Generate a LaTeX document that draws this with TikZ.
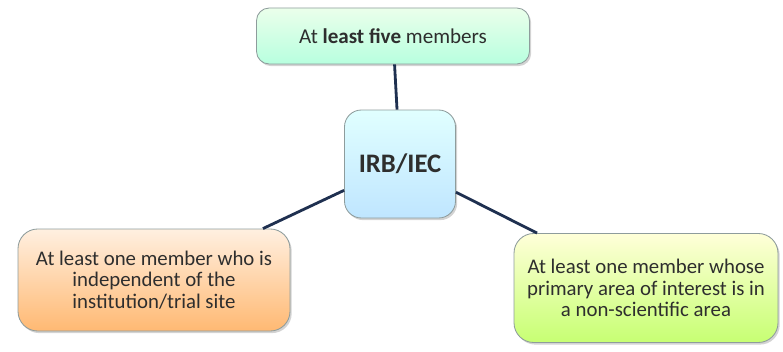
\documentclass[tikz,border=0pt]{standalone}
\usepackage{fontspec}
\setmainfont{Carlito}
\usetikzlibrary{shadows}
\definecolor{linkcol}{HTML}{1F3050}
\definecolor{rimcol}{HTML}{8E9C9C}
\definecolor{txtcol}{HTML}{2E2E2E}
\begin{document}
\begin{tikzpicture}[
    box/.style={draw=rimcol, line width=0.6pt, rounded corners=9pt,
      align=center, text=txtcol, inner sep=2pt,
      drop shadow={shadow xshift=1.2pt, shadow yshift=-1.5pt, opacity=0.35}},
    link/.style={draw=linkcol, line width=2pt}
  ]
  \useasboundingbox (0,0) rectangle (19.575,-8.775);
  \node[box, minimum width=6.825cm, minimum height=1.4cm,
    top color=green!8!white, bottom color=green!45!cyan!28!white,
    font=\fontsize{15}{17}\selectfont]
    (five) at (9.825,-0.9) {At \textbf{least five} members};
  \node[box, minimum width=2.775cm, minimum height=2.7cm, rounded corners=12pt,
    top color=cyan!12!white, bottom color=cyan!60!blue!25!white,
    font=\fontsize{19}{22}\selectfont\bfseries]
    (irb) at (10.0,-4.1) {IRB/IEC};
  \node[box, minimum width=6.8cm, minimum height=2.55cm, rounded corners=14pt,
    top color=orange!12!white, bottom color=orange!55!white,
    font=\fontsize{14.8}{15.4}\selectfont]
    (indep) at (3.85,-7.0)
    {At least one member who is\\ independent of the\\ institution/trial site};
  \node[box, minimum width=6.6cm, minimum height=2.725cm, rounded corners=14pt,
    top color=yellow!15!white, bottom color=yellow!60!green!55!white,
    font=\fontsize{14.8}{15.4}\selectfont]
    (nonsci) at (16.15,-7.2)
    {At least one member whose\\ primary area of interest is in\\ a non-scientific area};
  \begin{scope}[link]
    \draw (five) -- (irb);
    \draw (indep) -- (irb);
    \draw (irb) -- (nonsci);
  \end{scope}
\end{tikzpicture}
\end{document}
